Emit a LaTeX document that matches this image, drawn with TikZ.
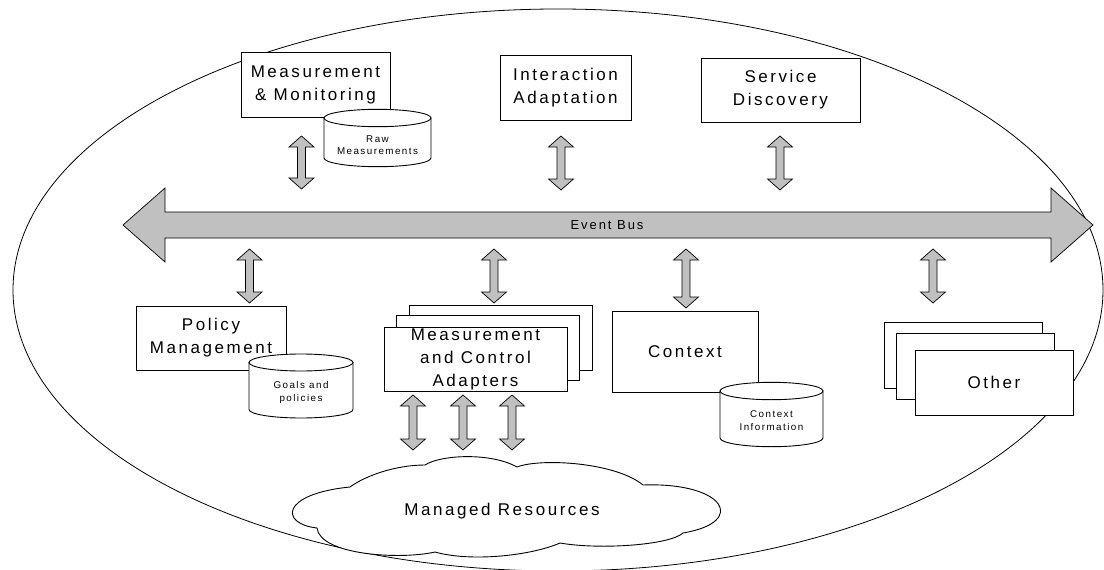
\documentclass[tikz,border=0pt]{standalone}
\usepackage{fontspec}
\setmainfont{Liberation Sans}
\newfontfamily\lblfont[LetterSpace=15]{Liberation Sans}
\definecolor{arrowgray}{RGB}{192,192,192}

% vertical two-headed block arrow: centre x, top tip y, bottom tip y
\newcommand\vdarrow[3]{%
  \filldraw[blockarrow] (#1,#2) -- ({#1+12.5},{#2+11}) -- ({#1+4},{#2+11})
    -- ({#1+4},{#3-11}) -- ({#1+12.5},{#3-11}) -- (#1,#3)
    -- ({#1-12.5},{#3-11}) -- ({#1-4},{#3-11}) -- ({#1-4},{#2+11})
    -- ({#1-12.5},{#2+11}) -- cycle;}

% database drum: left x, right x, top cap centre y, bottom cap centre y, cap radius
\newcommand\drumshape[5]{%
  \filldraw[drum] (#1,#3) -- (#1,#4)
    arc[start angle=180, end angle=0, x radius={(#2-#1)/2}, y radius=#5]
    -- (#2,#3) -- cycle;
  \filldraw[drum] ({(#1+#2)/2},#3) ellipse[x radius={(#2-#1)/2}, y radius=#5];}

\begin{document}
\begin{tikzpicture}[x=1pt, y=-1pt,
  box/.style={draw=black, line width=0.9pt, fill=white, inner sep=0pt,
    align=center, font=\lblfont\fontsize{17}{23}\selectfont},
  smalltext/.style={inner sep=0pt, align=center,
    font=\lblfont\fontsize{9.8}{12.5}\selectfont},
  bigtext/.style={inner sep=0pt, align=center,
    font=\lblfont\fontsize{17}{23}\selectfont},
  bustext/.style={inner sep=0pt, font=\lblfont\fontsize{13}{15}\selectfont},
  blockarrow/.style={draw=black, line width=0.7pt, fill=arrowgray, line join=miter},
  drum/.style={draw=black, line width=0.9pt, fill=white},
  boundary/.style={draw=black, line width=0.8pt}]

\useasboundingbox (0,0) rectangle (1104,570);
\fill[white] (0,0) rectangle (1104,570);

% system boundary
\draw[boundary] (558,290) ellipse[x radius=545, y radius=281];

% event bus
\filldraw[blockarrow] (123,225) -- (165,188) -- (165,212) -- (1051,212)
  -- (1051,188) -- (1093,225) -- (1051,262) -- (1051,238) -- (165,238)
  -- (165,262) -- cycle;
\node[bustext] (bus) at (607,225) {Event Bus};

% upper components
\node[box, minimum width=149, minimum height=65] (mm) at (315.5,84.5)
  {Measurement\\\& Monitoring};
\node[box, minimum width=131, minimum height=65] (ia) at (565.5,87.5)
  {Interaction\\Adaptation};
\node[box, minimum width=159, minimum height=64] (sd) at (780.5,90)
  {Service\\Discovery};
\drumshape{324}{431}{118}{158}{8.7}
\node[smalltext] (raw) at (377.5,145) {Raw\\Measurements};

\vdarrow{301.5}{136}{189}
\vdarrow{561}{136}{190}
\vdarrow{780}{136}{190}

% lower components
\vdarrow{249.5}{249}{303}
\vdarrow{494}{249}{303}
\vdarrow{686}{249}{308}
\vdarrow{933}{249}{303}

\node[box, minimum width=150, minimum height=64] (pm) at (211,338)
  {Policy\\Management};
\drumshape{249}{353}{362.5}{409.5}{8.5}
\node[smalltext] (goals) at (301,392.5) {Goals and\\policies};

\node[box, minimum width=183, minimum height=65] (mcaback) at (500.5,337.5) {};
\node[box, minimum width=183, minimum height=65] (mcamid) at (488,347.5) {};
\node[box, minimum width=183, minimum height=64] (mca) at (475.5,359)
  {Measurement\\and Control\\Adapters};

\node[box, minimum width=146, minimum height=81] (ctx) at (685,351.5) {Context};
\drumshape{720}{823}{391}{438}{8.7}
\node[smalltext] (ctxinfo) at (771.5,420.5) {Context\\Information};

\node[box, minimum width=158, minimum height=66] (otherback) at (963,355) {};
\node[box, minimum width=158, minimum height=66] (othermid) at (975.5,366) {};
\node[box, minimum width=158, minimum height=65] (other) at (994,382.5) {Other};

% managed resources
\vdarrow{413}{395}{450}
\vdarrow{463}{395}{450}
\vdarrow{512}{395}{450}
\filldraw[drum] (317,528) .. controls (280,524) and (280,494) .. (350,487)
  .. controls (365,476) and (395,465) .. (425,465)
  .. controls (440,455) and (490,452) .. (517,467)
  .. controls (540,458) and (615,462) .. (643,485)
  .. controls (725,482) and (748,522) .. (683,533)
  .. controls (670,545) and (600,550) .. (560,543)
  .. controls (530,556) and (470,562) .. (435,552)
  .. controls (400,560) and (320,555) .. (317,528) -- cycle;
\node[bigtext] (mr) at (502,511) {Managed Resources};

\end{tikzpicture}
\end{document}
